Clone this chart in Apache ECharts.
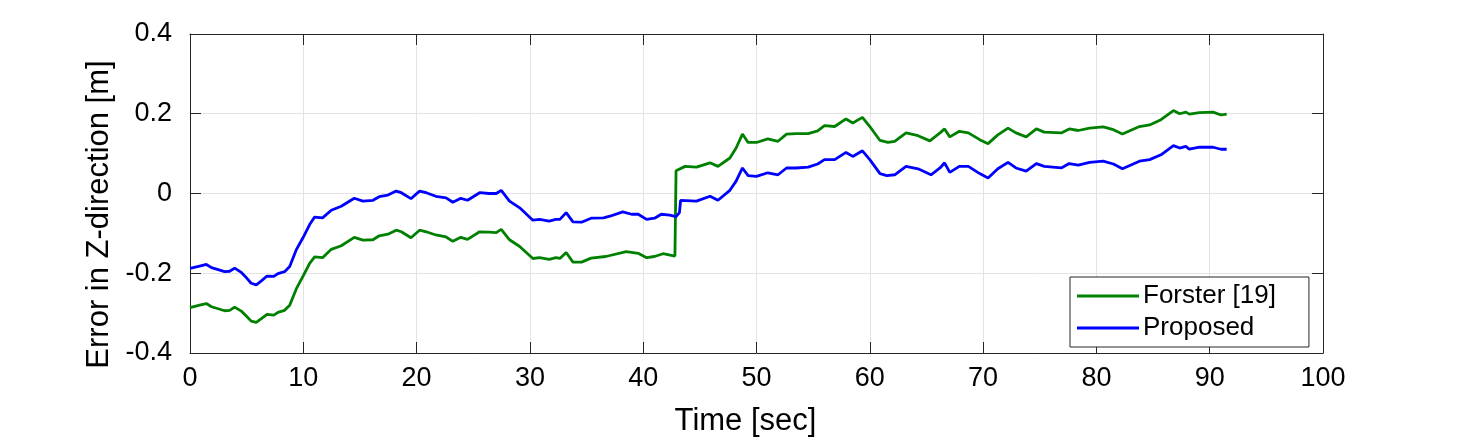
<!DOCTYPE html>
<html>
<head>
<meta charset="utf-8">
<script src="https://cdn.jsdelivr.net/npm/echarts@6/dist/echarts.min.js"></script>
<style>
  html, body { margin: 0; padding: 0; background: #fff; }
  #chart { width: 1463px; height: 442px; }
</style>
</head>
<body>
<div id="chart"></div>
<script>
// Forster [19]
const timeForster = [0, 0.85, 1.44, 1.9, 3.06, 3.5, 3.94, 4.53, 4.97, 5.4, 5.85, 6.3, 6.8, 7.4, 7.76, 8.35, 8.8, 9.4, 9.97, 10.56,
  11, 11.7, 12.47, 13.35, 14.5, 15.26, 16.15, 16.7, 17.47, 18.2, 18.65, 19.5, 20.26, 20.85, 21.7, 22.6, 23.2, 23.9, 24.5, 25.56,
  26.4, 27.03, 27.47, 28.2, 29.1, 30.26, 30.85, 31.7, 32.3, 32.65, 33.2, 33.8, 34.56, 35.4, 36.7, 38.5, 39.56, 40.3, 41, 41.75,
  42.8, 42.9, 43.7, 44.7, 45.9, 46.6, 47.65, 48.2, 48.76, 49.26, 50, 51, 51.9, 52.65, 53.5, 54.56, 55.4, 56, 56.9, 57.9,
  58.5, 59.35, 60, 60.9, 61.6, 62.2, 63.2, 64.26, 65.3, 66.2, 66.6, 67.06, 67.9, 68.7, 69.7, 70.44, 71.3, 72.2, 72.9, 73.8,
  74.7, 75.4, 76.9, 77.6, 78.4, 79.4, 80.6, 81.5, 82.3, 83.8, 84.7, 85.7, 86.8, 87.35, 87.9, 88.2, 89.1, 90.3, 91, 91.5]
const errForster = [-0.286, -0.280, -0.276, -0.284, -0.294, -0.293, -0.285, -0.295, -0.307, -0.320, -0.323, -0.314, -0.303, -0.305, -0.298, -0.293, -0.280, -0.238, -0.208, -0.175,
  -0.159, -0.161, -0.140, -0.131, -0.110, -0.117, -0.116, -0.106, -0.102, -0.092, -0.096, -0.111, -0.092, -0.096, -0.104, -0.109, -0.120, -0.110, -0.115, -0.096,
  -0.097, -0.098, -0.090, -0.116, -0.133, -0.163, -0.161, -0.165, -0.161, -0.163, -0.148, -0.172, -0.172, -0.162, -0.158, -0.146, -0.150, -0.161, -0.158, -0.151,
  -0.157, 0.057, 0.068, 0.066, 0.077, 0.068, 0.089, 0.114, 0.149, 0.128, 0.128, 0.137, 0.131, 0.149, 0.150, 0.150, 0.157, 0.170, 0.168, 0.187,
  0.177, 0.191, 0.168, 0.133, 0.128, 0.131, 0.152, 0.145, 0.132, 0.152, 0.162, 0.142, 0.156, 0.152, 0.135, 0.125, 0.147, 0.164, 0.152, 0.142,
  0.162, 0.154, 0.152, 0.162, 0.158, 0.164, 0.167, 0.160, 0.149, 0.168, 0.172, 0.185, 0.208, 0.200, 0.204, 0.199, 0.203, 0.204, 0.197, 0.199]

// Proposed
const timeProposed = [0, 0.85, 1.44, 1.9, 3.06, 3.5, 3.94, 4.53, 4.97, 5.4, 5.85, 6.3, 6.8, 7.4, 7.76, 8.35, 8.8, 9.4, 9.97, 10.56,
  11, 11.7, 12.47, 13.35, 14.5, 15.26, 16.15, 16.7, 17.47, 18.2, 18.65, 19.5, 20.26, 20.85, 21.7, 22.6, 23.2, 23.9, 24.5, 25.56,
  26.4, 27.03, 27.47, 28.2, 29.1, 30.26, 30.85, 31.7, 32.3, 32.65, 33.2, 33.8, 34.56, 35.4, 36.5, 37.06, 38.2, 38.97, 39.56, 40.3,
  41, 41.6, 42.35, 42.9, 43.2, 43.3, 44.7, 45.9, 46.6, 47.65, 48.2, 48.76, 49.26, 50, 51, 51.9, 52.65, 53.5, 54.56, 55.4,
  56, 56.9, 57.9, 58.5, 59.35, 60, 60.9, 61.5, 62.2, 63.2, 64.26, 65.4, 66.2, 66.6, 67.06, 67.9, 68.7, 69.7, 70.44, 71.3,
  72.2, 72.9, 73.8, 74.7, 75.4, 76.9, 77.6, 78.4, 79.4, 80.6, 81.5, 82.3, 83.8, 84.7, 85.7, 86.8, 87.35, 87.9, 88.2, 89.1,
  90.3, 91, 91.5]
const errProposed = [-0.188, -0.182, -0.178, -0.186, -0.196, -0.195, -0.187, -0.198, -0.211, -0.225, -0.229, -0.219, -0.207, -0.208, -0.201, -0.196, -0.183, -0.140, -0.111, -0.078,
  -0.059, -0.061, -0.042, -0.032, -0.012, -0.019, -0.017, -0.008, -0.004, 0.006, 0.002, -0.013, 0.006, 0.002, -0.007, -0.011, -0.022, -0.012, -0.017, 0.002,
  0.000, 0.000, 0.008, -0.019, -0.036, -0.067, -0.065, -0.069, -0.065, -0.065, -0.048, -0.071, -0.072, -0.062, -0.061, -0.057, -0.046, -0.052, -0.052, -0.065,
  -0.062, -0.052, -0.054, -0.058, -0.048, -0.017, -0.019, -0.007, -0.017, 0.008, 0.031, 0.064, 0.045, 0.043, 0.052, 0.047, 0.064, 0.064, 0.066, 0.074,
  0.085, 0.085, 0.103, 0.093, 0.107, 0.085, 0.050, 0.045, 0.047, 0.068, 0.062, 0.047, 0.064, 0.077, 0.053, 0.068, 0.068, 0.050, 0.039, 0.062,
  0.078, 0.064, 0.056, 0.075, 0.068, 0.064, 0.075, 0.071, 0.078, 0.081, 0.074, 0.062, 0.081, 0.085, 0.097, 0.120, 0.114, 0.118, 0.111, 0.116,
  0.116, 0.111, 0.111]

// axis ticks
const xTicks = { min: 0, max: 100, interval: 10 }
const yTicks = { min: -0.4, max: 0.4, interval: 0.2 }

const zip = (xs, ys) => xs.map((x, i) => [x, ys[i]])

const FONT = '"Liberation Sans", Arial, Helvetica, sans-serif'
const AX = '#262626'
const GRID = '#e3e3e3'

const myChart = echarts.init(document.getElementById('chart'))

// top / right box sides, ticks only
const boxAxis = {
  axisLine: { show: true, onZero: false, lineStyle: { color: AX, width: 1 } },
  axisTick: { show: true, inside: true, length: 11, lineStyle: { color: AX } },
  axisLabel: { show: false },
  splitLine: { show: false }
}

const options = {
  animation: false,
  textStyle: { fontFamily: FONT },
  grid: { left: 190, right: 140, top: 34, bottom: 89 },
  legend: {
    orient: 'vertical',
    left: 1070,
    top: 277,
    padding: [4, 33, 4, 7],
    borderColor: '#262626',
    borderWidth: 1,
    backgroundColor: '#fff',
    icon: 'rect',
    itemWidth: 62,
    itemHeight: 3,
    itemGap: 2,
    textStyle: { fontFamily: FONT, fontSize: 26, color: '#000', lineHeight: 30, padding: [0, 0, 0, -1] },
    data: ['Forster [19]', 'Proposed']
  },
  xAxis: [{
    type: 'value',
    min: xTicks.min,
    max: xTicks.max,
    interval: xTicks.interval,
    name: 'Time [sec]',
    nameLocation: 'middle',
    nameGap: 53,
    nameTextStyle: { fontFamily: FONT, fontSize: 31, color: '#000', padding: [0, 22, 0, 0] },
    axisLine: { show: true, onZero: false, lineStyle: { color: AX, width: 1 } },
    axisTick: { show: true, inside: true, length: 11, lineStyle: { color: AX } },
    axisLabel: { fontFamily: FONT, fontSize: 27, color: '#000', margin: 12 },
    splitLine: { show: true, lineStyle: { color: GRID, width: 1 } }
  }, {
    type: 'value',
    position: 'top',
    min: xTicks.min,
    max: xTicks.max,
    interval: xTicks.interval,
    ...boxAxis
  }],
  yAxis: [{
    type: 'value',
    min: yTicks.min,
    max: yTicks.max,
    interval: yTicks.interval,
    name: 'Error in Z-direction [m]',
    nameLocation: 'middle',
    nameGap: 72,
    nameTextStyle: { fontFamily: FONT, fontSize: 31, color: '#000', padding: [0, 42, 0, 0] },
    axisLine: { show: true, onZero: false, lineStyle: { color: AX, width: 1 } },
    axisTick: { show: true, inside: true, length: 11, lineStyle: { color: AX } },
    axisLabel: { fontFamily: FONT, fontSize: 27, color: '#000', margin: 18 },
    splitLine: { show: true, lineStyle: { color: GRID, width: 1 } }
  }, {
    type: 'value',
    position: 'right',
    min: yTicks.min,
    max: yTicks.max,
    interval: yTicks.interval,
    ...boxAxis
  }],
  series: [{
    name: 'Forster [19]',
    type: 'line',
    showSymbol: false,
    symbol: 'none',
    color: '#008000',
    lineStyle: { color: '#008000', width: 2.8 },
    data: zip(timeForster, errForster)
  }, {
    name: 'Proposed',
    type: 'line',
    showSymbol: false,
    symbol: 'none',
    color: '#0000ff',
    lineStyle: { color: '#0000ff', width: 2.8 },
    data: zip(timeProposed, errProposed)
  }]
}

myChart.setOption(options)
</script>
</body>
</html>
